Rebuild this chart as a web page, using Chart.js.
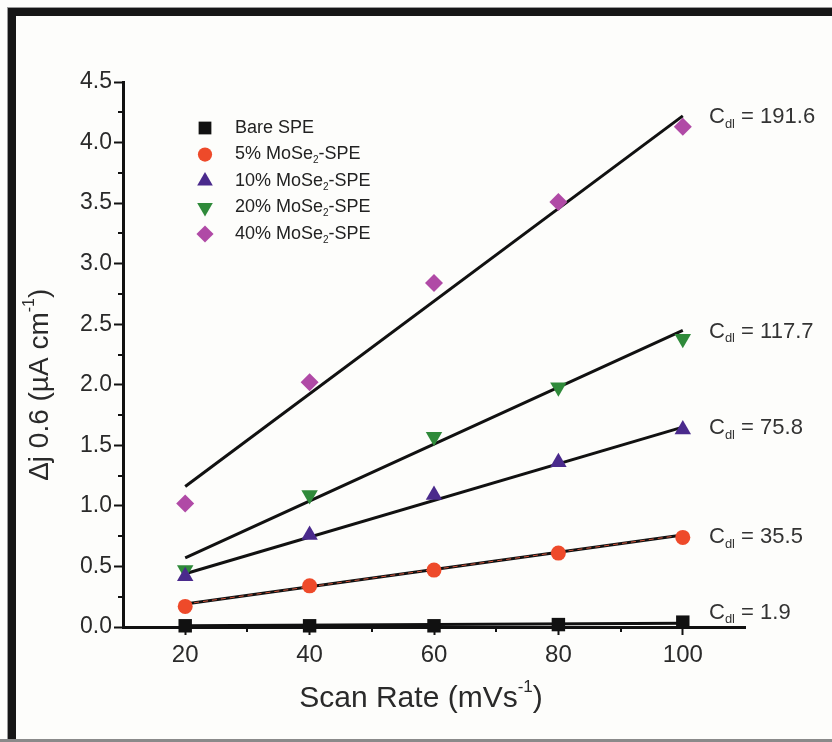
<!DOCTYPE html>
<html>
<head>
<meta charset="utf-8">
<script src="https://cdn.jsdelivr.net/npm/chart.js@4/dist/chart.umd.min.js"></script>
<style>
  html, body { margin: 0; padding: 0; background: #fdfdfb; }
  #wrap { position: relative; width: 832px; height: 742px; overflow: hidden; }
  #c { position: absolute; left: 0; top: 0; }
  .bar { position: absolute; background: #161616; }
</style>
</head>
<body>
<div id="wrap">
  <canvas id="c" width="832" height="742"></canvas>
  <div class="bar" style="left:7px;top:7px;width:825px;height:1px;background:#999"></div>
  <div class="bar" style="left:8px;top:8px;width:824px;height:8px"></div>
  <div class="bar" style="left:7px;top:8px;width:1px;height:734px;background:#999"></div>
  <div class="bar" style="left:8px;top:8px;width:8px;height:734px"></div>
  <div class="bar" style="left:0;top:739px;width:832px;height:3px;background:#8a8a8a"></div>
</div>
<script>
// scan rates (mV/s) and delta j values
var scanRates = [20, 40, 60, 80, 100];
var bareSPE  = [0.01, 0.01, 0.01, 0.02, 0.04];
var mose5    = [0.17, 0.34, 0.47, 0.61, 0.74];
var mose10   = [0.42, 0.76, 1.09, 1.36, 1.63];
var mose20   = [0.47, 1.09, 1.57, 1.98, 2.38];
var mose40   = [1.02, 2.02, 2.84, 3.51, 4.13];

// linear fits, value at x=20 and x=100
var fitX    = [20, 100];
var fitBare = [0.01, 0.03];
var fit5    = [0.19, 0.76];
var fit10   = [0.44, 1.65];
var fit20   = [0.57, 2.45];
var fit40   = [1.16, 4.22];

// Cdl labels (bottom to top) and the y value where each one sits
var cdlText = ['1.9', '35.5', '75.8', '117.7', '191.6'];
var cdlY    = [0.12, 0.74, 1.64, 2.44, 4.21];

var yTicks = [0, 0.5, 1, 1.5, 2, 2.5, 3, 3.5, 4, 4.5];
var xTicks = [20, 40, 60, 80, 100];

var FONT = "'Liberation Sans', Arial, sans-serif";

function pts(ys, xs) {
    xs = xs || scanRates;
    return ys.map(function(v, i){ return {x: xs[i], y: v}; });
}

function markerSet(label, ys, color, style, r, rot) {
    return {
        type: 'scatter', label: label, data: pts(ys),
        pointStyle: style, pointRadius: r, pointRotation: rot || 0,
        backgroundColor: color, borderColor: color, borderWidth: 0,
        clip: false, order: 0
    };
}
function fitSet(ys, color, width, dash, order) {
    return {
        type: 'line', data: pts(ys, fitX), borderColor: color, borderWidth: width,
        borderDash: dash || [], pointRadius: 0, fill: false, clip: false,
        order: order == null ? 2 : order
    };
}

var series = [
    {name: ['Bare SPE'], color: '#111111', style: 'rect', r: 9.5, rot: 0, ys: bareSPE},
    {name: ['5% MoSe', '2', '-SPE'], color: '#ee4a2a', style: 'circle', r: 7.5, rot: 0, ys: mose5},
    {name: ['10% MoSe', '2', '-SPE'], color: '#4a2a8c', style: 'triangle', r: 9.5, rot: 0, ys: mose10},
    {name: ['20% MoSe', '2', '-SPE'], color: '#2f8a3a', style: 'triangle', r: 9.5, rot: 180, ys: mose20},
    {name: ['40% MoSe', '2', '-SPE'], color: '#b04aa6', style: 'rectRot', r: 9, rot: 0, ys: mose40}
];

var datasets = [
    fitSet(fitBare, '#111', 3),
    fitSet(fit5, '#111', 3),
    fitSet(fit5, '#d2543a', 1, [5, 4], 1),
    fitSet(fit10, '#111', 3),
    fitSet(fit20, '#111', 3),
    fitSet(fit40, '#111', 3)
];
series.forEach(function(s){
    datasets.push(markerSet(s.name.join(''), s.ys, s.color, s.style, s.r, s.rot));
});

// draw text pieces with sub/superscripts: parts = [[text, 'sub'|'sup'|''], ...]
function richWidth(ctx, parts, size, fam) {
    var w = 0;
    parts.forEach(function(p){
        ctx.font = (p[1] ? Math.round(size * 0.58) : size) + 'px ' + fam;
        w += ctx.measureText(p[0]).width;
    });
    return w;
}
function drawRich(ctx, parts, x, y, size, fam, align) {
    var w = richWidth(ctx, parts, size, fam);
    if (align === 'center') x -= w / 2;
    ctx.textBaseline = 'middle';
    ctx.textAlign = 'left';
    parts.forEach(function(p){
        var dy = 0, sz = size;
        if (p[1] === 'sub') { sz = Math.round(size * 0.58); dy = size * 0.32; }
        if (p[1] === 'sup') { sz = Math.round(size * 0.58); dy = -size * 0.38; }
        ctx.font = sz + 'px ' + fam;
        ctx.fillText(p[0], x, y + dy);
        x += ctx.measureText(p[0]).width;
    });
}

var extras = {
    id: 'extras',
    afterDraw: function(chart) {
        var ctx = chart.ctx;
        var xs = chart.scales.x, ys = chart.scales.y;
        ctx.save();
        // minor ticks
        ctx.strokeStyle = '#111';
        ctx.lineWidth = 2;
        for (var v = 0.25; v < 4.5; v += 0.5) {
            var py = Math.round(ys.getPixelForValue(v));
            ctx.beginPath(); ctx.moveTo(xs.left - 5, py); ctx.lineTo(xs.left, py); ctx.stroke();
        }
        [30, 50, 70, 90].forEach(function(v){
            var px = Math.round(xs.getPixelForValue(v));
            ctx.beginPath(); ctx.moveTo(px, ys.bottom); ctx.lineTo(px, ys.bottom + 5); ctx.stroke();
        });

        // legend
        var lx = 205, ly = 128, step = 26.5;
        series.forEach(function(s, i){
            var cy = ly + i * step;
            ctx.fillStyle = s.color;
            ctx.strokeStyle = s.color;
            ctx.lineWidth = 0.1;
            Chart.helpers.drawPoint(ctx, {pointStyle: s.style, rotation: s.rot, radius: s.r * 0.95, borderWidth: 0}, lx, cy);
            ctx.fillStyle = '#222';
            var parts = s.name.length === 1 ? [[s.name[0], '']] :
                [[s.name[0], ''], [s.name[1], 'sub'], [s.name[2], '']];
            drawRich(ctx, parts, 235, cy, 18, FONT);
        });

        // Cdl labels
        ctx.fillStyle = '#333';
        cdlText.forEach(function(t, i){
            var py = ys.getPixelForValue(cdlY[i]);
            drawRich(ctx, [['C', ''], ['dl', 'sub'], [' = ' + t, '']], 709, py, 22, FONT);
        });

        // axis titles
        ctx.fillStyle = '#2a2a2a';
        drawRich(ctx, [['Scan Rate (mVs', ''], ['-1', 'sup'], [')', '']],
            (xs.left + xs.right) / 2 - 13, 699, 30, FONT, 'center');
        ctx.translate(40, ys.getPixelForValue(2.0));
        ctx.rotate(-Math.PI / 2);
        drawRich(ctx, [['\u0394j 0.6 (\u00b5A cm', ''], ['-1', 'sup'], [')', '']], 0, 0, 28, FONT, 'center');
        ctx.restore();
    }
};

var ctx = document.getElementById('c').getContext('2d');
var chart = new Chart(ctx, {
    data: { datasets: datasets },
    options: {
        responsive: false,
        animation: false,
        events: [],
        layout: { padding: { top: 82, right: 87, left: 0, bottom: 0 } },
        plugins: { legend: { display: false }, tooltip: { enabled: false } },
        scales: {
            x: {
                type: 'linear', min: 10, max: 110,
                afterFit: function(s){ s.height = 115; },
                afterBuildTicks: function(s){ s.ticks = xTicks.map(function(v){ return {value: v}; }); },
                border: { color: '#111', width: 3 },
                grid: { drawOnChartArea: false, drawTicks: true, tickLength: 8, tickColor: '#111', tickWidth: 2 },
                ticks: { color: '#2a2a2a', padding: 6, maxRotation: 0, font: { family: FONT, size: 24 } }
            },
            y: {
                type: 'linear', min: 0, max: 4.5,
                afterFit: function(s){ s.width = 123; },
                afterBuildTicks: function(s){ s.ticks = yTicks.map(function(v){ return {value: v}; }); },
                border: { color: '#111', width: 3 },
                grid: { drawOnChartArea: false, drawTicks: true, tickLength: 9, tickColor: '#111', tickWidth: 2 },
                ticks: { color: '#2a2a2a', padding: 2, font: { family: FONT, size: 23 },
                         callback: function(v){ return v.toFixed(1); } }
            }
        }
    },
    plugins: [extras]
});
</script>
</body>
</html>
